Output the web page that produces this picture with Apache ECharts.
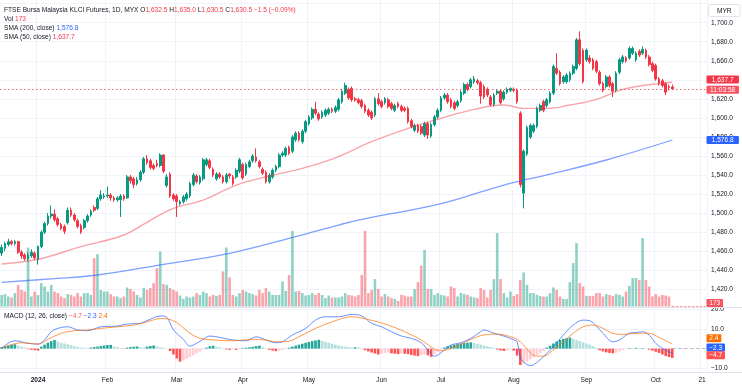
<!DOCTYPE html>
<html><head><meta charset="utf-8">
<script src="https://cdn.jsdelivr.net/npm/echarts@6/dist/echarts.min.js"></script>
<style>html,body{margin:0;padding:0;background:#fff}#c{width:742px;height:390px}</style>
</head><body><div id="c"></div>
<script>
// ---------- data ----------
const startDate = '2023-12-14';
const endDate = '2024-10-22';
const holidays = ['2023-12-25','2024-01-01','2024-01-25','2024-03-28','2024-04-10','2024-04-11','2024-05-01','2024-06-03','2024-06-17','2024-07-08'];
const tickDates = ['2024-01-02','2024-02-01','2024-03-01','2024-04-01','2024-05-02','2024-06-04','2024-07-01','2024-08-01','2024-09-02','2024-10-01','2024-10-21'];
const tickLabels = ['2024','Feb','Mar','Apr','May','Jun','Jul','Aug','Sep','Oct','21'];

// [open, close, low, high]
const candles = [
[1458,1464,1455,1467],[1463,1468,1460,1470],[1467,1470,1465,1473],[1470,1468,1466,1472],[1468,1470,1466,1472],
[1470,1459,1457,1471],[1459,1455,1452,1461],[1456,1452,1450,1458],[1452,1456,1450,1459],[1455,1459,1453,1462],
[1458,1453,1451,1460],[1451,1465,1446,1466],[1465,1480,1463,1482],[1480,1489,1478,1491],[1489,1497,1487,1500],
[1497,1499,1494,1508],[1499,1493,1491,1504],[1494,1488,1486,1496],[1488,1484,1482,1490],[1486,1481,1478,1488],
[1490,1503,1488,1506],[1503,1498,1496,1506],[1498,1493,1491,1500],[1492,1486,1484,1494],[1487,1480,1478,1489],
[1485,1492,1483,1494],[1492,1497,1490,1499],[1498,1502,1496,1504],[1506,1503,1501,1508],[1505,1515,1503,1517],
[1515,1519,1513,1524],[1517,1518,1515,1521],[1518,1519,1516,1528],[1519,1516,1513,1521],[1516,1514,1512,1518],
[1514,1516,1512,1518],[1514,1518,1496,1520],[1518,1515,1513,1520],[1516,1538,1515,1540],[1538,1534,1531,1540],
[1536,1530,1526,1538],[1531,1535,1529,1538],[1535,1543,1533,1545],[1543,1557,1541,1559],[1557,1553,1551,1561],
[1555,1548,1546,1557],[1550,1547,1545,1552],[1552,1550,1548,1556],[1550,1561,1548,1563],[1561,1544,1542,1562],
[1529,1538,1527,1541],[1541,1518,1516,1543],[1519,1515,1513,1521],[1518,1512,1496,1520],[1510,1512,1508,1514],
[1512,1517,1510,1519],[1515,1520,1513,1522],[1518,1531,1516,1533],[1530,1540,1528,1542],[1539,1533,1531,1541],
[1532,1538,1530,1540],[1536,1556,1534,1558],[1551,1556,1549,1558],[1555,1548,1546,1557],[1546,1540,1538,1548],
[1536,1541,1534,1543],[1541,1538,1536,1543],[1538,1533,1531,1540],[1533,1540,1531,1542],[1541,1539,1536,1542],
[1538,1531,1529,1540],[1538,1545,1536,1547],[1544,1556,1542,1558],[1551,1537,1535,1553],[1541,1551,1539,1553],
[1549,1554,1547,1556],[1555,1560,1553,1562],[1559,1555,1553,1568],[1554,1549,1547,1556],[1546,1542,1540,1548],
[1543,1533,1531,1545],[1533,1540,1531,1542],[1538,1545,1536,1547],[1545,1549,1543,1551],[1549,1561,1547,1563],
[1561,1563,1559,1565],[1561,1568,1559,1570],[1569,1563,1561,1571],[1565,1580,1563,1582],[1577,1584,1575,1586],
[1584,1577,1575,1586],[1575,1586,1573,1588],[1586,1596,1584,1598],[1594,1601,1592,1603],[1600,1609,1598,1611],
[1609,1605,1603,1617],[1604,1599,1597,1606],[1601,1606,1599,1608],[1603,1608,1601,1610],[1605,1609,1603,1611],
[1609,1607,1605,1611],[1607,1611,1605,1613],[1609,1619,1607,1621],[1617,1628,1615,1630],[1626,1634,1624,1637],
[1630,1621,1619,1632],[1631,1619,1617,1633],[1620,1619,1617,1622],[1619,1616,1614,1621],[1618,1612,1610,1620],
[1613,1607,1605,1615],[1608,1603,1601,1610],[1606,1600,1598,1608],[1603,1620,1601,1622],[1620,1615,1613,1626],
[1617,1612,1610,1619],[1616,1620,1614,1622],[1619,1612,1610,1621],[1615,1610,1608,1617],[1608,1613,1606,1615],
[1615,1612,1610,1617],[1612,1608,1606,1614],[1610,1608,1606,1612],[1610,1596,1594,1612],[1597,1591,1589,1599],
[1587,1592,1585,1594],[1592,1586,1584,1594],[1591,1584,1582,1593],[1582,1594,1580,1596],[1594,1582,1578,1596],
[1581,1593,1579,1595],[1593,1601,1591,1603],[1601,1608,1599,1610],[1608,1621,1606,1623],[1621,1624,1619,1626],
[1624,1617,1615,1626],[1619,1612,1610,1621],[1616,1610,1608,1618],[1613,1617,1611,1619],[1618,1627,1616,1629],
[1626,1635,1624,1637],[1635,1630,1628,1637],[1633,1640,1631,1642],[1638,1641,1636,1644],[1639,1637,1635,1641],
[1637,1623,1615,1639],[1633,1622,1620,1635],[1630,1624,1622,1632],[1622,1614,1612,1624],[1614,1624,1612,1626],
[1626,1628,1624,1630],[1628,1616,1614,1630],[1620,1627,1618,1629],[1627,1630,1625,1632],[1629,1631,1627,1632],
[1630,1629,1627,1632],[1629,1617,1615,1631],[1605,1530,1527,1607],[1521,1565,1505,1567],[1562,1590,1560,1592],
[1580,1592,1578,1594],[1586,1592,1584,1594],[1591,1610,1589,1612],[1608,1613,1606,1615],[1617,1608,1606,1619],
[1613,1619,1611,1621],[1617,1626,1615,1628],[1626,1654,1624,1656],[1652,1647,1645,1668],[1648,1636,1634,1650],
[1638,1643,1636,1645],[1638,1645,1636,1647],[1640,1647,1638,1649],[1647,1654,1645,1656],[1652,1682,1650,1684],
[1682,1657,1655,1691],[1671,1638,1636,1673],[1661,1671,1659,1673],[1663,1659,1657,1666],[1661,1652,1650,1663],
[1659,1649,1647,1661],[1648,1636,1634,1650],[1636,1629,1627,1638],[1633,1643,1631,1645],[1643,1634,1632,1645],
[1636,1628,1622,1638],[1629,1647,1627,1649],[1648,1661,1646,1663],[1659,1664,1657,1666],[1663,1660,1658,1665],
[1663,1673,1661,1675],[1668,1673,1666,1675],[1661,1668,1659,1670],[1670,1666,1664,1672],[1668,1672,1666,1675],
[1671,1664,1662,1673],[1664,1656,1654,1666],[1657,1650,1648,1659],[1655,1641,1639,1657],[1641,1636,1634,1643],
[1639,1634,1632,1641],[1636,1627,1624,1638],[1633,1632,1629,1635],[1632.5,1630.5,1630.5,1635]
];

const volumes = [
5800,6200,5000,4500,6700,10800,8300,7500,29500,5000,
7500,5800,11700,10000,7500,10800,7500,6700,5000,4200,
6200,5800,5000,6700,5000,6700,6700,5800,24200,26200,
8300,7500,7500,6200,5000,5000,4200,5000,9500,8800,
7500,5800,4500,9200,8300,9200,11700,19200,27500,11200,
10800,9200,8300,7500,5500,3800,5000,4500,5000,6700,
5800,7500,6700,5000,5800,5300,5800,17500,29500,14500,
5800,5000,6700,8300,7500,6700,6200,5500,8300,6700,
9200,7500,5800,5800,5800,12500,7800,15800,37800,7500,
7800,6700,5500,5800,6700,5800,6700,5800,4200,5500,
4500,
4500,4500,5000,6700,5800,5500,5000,5800,15800,
37800,6700,8300,13700,8800,5000,6200,5000,4200,3800,
2800,5800,5500,5000,5000,8700,12200,20500,28300,8700,
8700,5800,6700,5800,5500,5000,10000,9200,5000,6700,
6300,5800,5000,4500,4200,9200,8300,4500,8300,13700,
36700,13700,6700,4500,7500,5300,6200,13300,17000,10800,
6700,6700,5800,5300,5000,5000,6700,9500,8300,5000,
3800,3800,12200,21700,31700,11700,10000,5300,5300,5300,
6700,6700,5000,6200,5800,5300,6200,5800,5000,7500,
10300,14200,14200,13300,34200,13300,10000,5000,6200,5000,
5800,5500,5000,173
];

// [bar index, value]
const sma50Pts = [[0,1446.6],[11,1451.5],[24,1464.8],[37,1477],[45,1492.5],[52,1505],[61,1513.7],[71,1529.5],[81,1539],[91,1547],[101,1558],[112,1575],[123,1589],[133,1599.6],[143,1609],[152,1613.5],[158,1610],[165,1610],[172,1613.5],[180,1619.5],[187,1629],[193,1633.5],[200,1636.3],[203,1637.7]];
const sma200Pts = [[0,1427.3],[15,1431],[29,1435],[49,1446.2],[69,1457.8],[89,1475.3],[102,1487.5],[108,1492.7],[133,1510],[152,1529.5],[167,1541.8],[183,1555.8],[203,1576.8]];
const macdPts = [[0,0.2],[4,4.0],[8,2.7],[11,2.3],[13,4.4],[15,8.6],[17,10.3],[20,11.1],[23,9.5],[26,9.1],[30,11.1],[35,11.5],[38,12.5],[42,12.9],[44,14.2],[48,16.6],[50,15.9],[52,9.5],[55,4.7],[57,1.3],[59,2.7],[61,4.7],[63,6.4],[66,5.7],[70,4.4],[74,4.0],[77,6.0],[80,4.4],[83,3.0],[85,3.5],[88,6.9],[92,10.3],[95,14.5],[98,16.2],[102,16.2],[106,17.4],[109,16.6],[112,12.9],[115,11.1],[118,8.6],[121,6.4],[124,5.2],[127,3.0],[129,-0.7],[131,-3.8],[132,-3.3],[134,-0.7],[136,1.8],[139,3.0],[142,5.2],[145,8.6],[146,9.5],[149,7.8],[152,6.4],[155,4.5],[156,3.5],[157,-4.5],[158,-6.8],[160,-8.6],[161,-8.3],[164,-4.1],[167,1.0],[170,6.9],[173,12.0],[176,14.5],[178,14.2],[180,11.5],[182,7.8],[185,3.5],[187,4.4],[190,7.8],[192,8.2],[194,8.6],[196,6.9],[198,2.7],[200,0.1],[203,-2.3]];
const signalPts = [[0,0.2],[6,3.0],[11,2.3],[14,4.7],[18,7.8],[22,9.1],[26,9.5],[30,10.3],[35,11.1],[40,12.0],[44,13.6],[48,15.3],[51,14.8],[54,12.0],[57,7.8],[60,5.3],[64,4.4],[70,4.0],[76,4.7],[80,4.4],[83,3.5],[86,3.5],[90,6.0],[95,10.3],[100,13.6],[106,16.2],[111,14.8],[117,12.0],[122,8.6],[127,4.4],[131,-0.3],[133,-1.1],[136,0.1],[140,3.0],[144,6.1],[147,7.2],[150,7.4],[154,6.1],[156,4.7],[158,1.8],[160,-2.1],[162,-3.8],[164,-3.8],[167,-0.7],[170,3.5],[173,7.8],[176,11.1],[179,12.0],[182,10.3],[185,7.8],[188,7.2],[192,7.8],[196,7.8],[199,5.7],[203,2.4]];
const histVals = [
0.8,1.2,1.6,2.0,2.2,1.6,1.0,0.5,-0.3,-0.6,
-0.8,-1.0,1.0,2.0,3.0,3.8,4.4,3.6,3.0,2.6,
2.2,1.8,1.3,0.9,0.6,0.4,0.3,0.5,0.8,1.0,
1.3,1.6,1.8,1.9,1.2,0.8,0.4,-0.2,0.5,0.8,
1.0,1.1,0.8,0.6,1.0,1.3,1.6,1.2,0.8,0.4,
0.1,-1.2,-3.0,-5.0,-6.6,-6.0,-5.2,-4.3,-3.4,-2.4,
-1.4,-0.5,0.5,1.2,1.5,1.0,0.6,0.2,-0.4,-0.6,
-0.3,-0.6,-0.3,0.3,0.5,0.7,0.9,1.3,1.5,0.8,
0.2,-0.6,-1.0,-1.3,-1.0,-0.6,-0.2,0.5,1.0,1.5,
2.0,2.5,3.0,3.4,3.8,4.2,4.5,4.0,3.5,3.0,
2.5,2.0,1.6,1.3,1.0,0.8,0.6,0.7,0.5,0.3,
-0.8,-1.4,-2.0,-2.5,-3.0,-2.6,-2.2,-2.0,-2.4,-2.6,
-2.8,-2.5,-2.6,-2.8,-3.2,-3.6,-3.8,-3.3,-3.0,-3.4,
-4.2,-2.8,-1.5,-0.5,0.6,1.2,1.6,2.0,2.3,2.6,
2.8,3.0,3.2,2.8,2.4,2.0,1.6,1.2,0.8,0.4,
-0.5,-0.9,-1.2,-0.8,-0.5,-1.0,-3.5,-8.3,-7.4,-6.5,
-5.5,-4.4,-3.3,-2.2,-1.2,0.6,1.5,2.6,3.6,4.4,
5.0,5.3,5.6,5.0,4.4,3.8,3.2,2.6,2.0,1.3,
0.5,-0.8,-1.4,-1.9,-2.2,-2.4,-2.0,-1.4,-0.8,-0.3,
0.3,0.2,0.4,0.2,0.3,0.1,-0.5,-1.0,-1.6,-2.2,
-3.0,-3.8,-4.3,-4.7
];
const countdownText = '11:03:58';

// ---------- helpers ----------
const FONT = '"Liberation Sans", Arial, sans-serif';
const FS = 6.6;
const TXT = '#131722';
const UP = '#089981', DOWN = '#F23645';
const BLUE = '#2962FF', ORANGE = '#FF6D00';

function fmt(v, dec) {
  if (dec === undefined) dec = 1;
  const s = Math.abs(v).toFixed(dec);
  const parts = s.split('.');
  const a = parts[0].replace(/\B(?=(\d{3})+(?!\d))/g, ',');
  return (v < 0 ? '\u2212' : '') + a + (parts[1] ? '.' + parts[1] : '');
}

const categories = [];
(function () {
  const d = new Date(startDate + 'T00:00:00Z');
  const end = new Date(endDate + 'T00:00:00Z');
  while (d <= end) {
    const wd = d.getUTCDay();
    const s = d.toISOString().slice(0, 10);
    if (wd !== 0 && wd !== 6 && holidays.indexOf(s) < 0) categories.push(s);
    d.setUTCDate(d.getUTCDate() + 1);
  }
})();
const tickMap = {};
tickDates.forEach((d, i) => { tickMap[d] = tickLabels[i]; });

const last = candles[candles.length - 1];
const prev = candles[candles.length - 2];
const lastClose = last[1];
const chg = lastClose - prev[1];
const pct = chg / prev[1] * 100;
const lastVol = volumes[volumes.length - 1];
const sma50Last = sma50Pts[sma50Pts.length - 1][1];
const sma200Last = sma200Pts[sma200Pts.length - 1][1];
const macdLast = macdPts[macdPts.length - 1][1];
const signalLast = signalPts[signalPts.length - 1][1];
const histLast = histVals[histVals.length - 1];

const volData = volumes.map((v, i) => ({
  value: v,
  itemStyle: { color: candles[i][1] >= candles[i][0] ? 'rgba(8,153,129,0.45)' : 'rgba(242,54,69,0.45)' }
}));
const histData = histVals.map((v, i) => {
  const p = i > 0 ? histVals[i - 1] : 0;
  let c;
  if (v >= 0) c = v >= p ? '#26A69A' : '#B2DFDB';
  else c = v <= p ? '#FF5252' : '#FFCDD2';
  return { value: v, itemStyle: { color: c } };
});

const richBase = { fontSize: FS, fontFamily: FONT, lineHeight: 9 };
const rich = {
  t: Object.assign({ color: TXT }, richBase),
  r: Object.assign({ color: DOWN }, richBase),
  b: Object.assign({ color: BLUE }, richBase),
  o: Object.assign({ color: ORANGE }, richBase),
  m: Object.assign({ color: '#FF5252' }, richBase)
};
function legend(text, top) {
  return { text: text, left: 4, top: top, padding: 0,
    textStyle: { fontSize: FS, fontFamily: FONT, fontWeight: 'normal', color: TXT, lineHeight: 9, rich: rich } };
}

const tickInterval = (idx, val) => tickMap[val] !== undefined;

const chart = echarts.init(document.getElementById('c'), null, { renderer: 'canvas' });
const option = {
  animation: false,
  backgroundColor: '#ffffff',
  textStyle: { fontFamily: FONT },
  title: [
    legend('{t|FTSE Bursa Malaysia KLCI Futures, 1D, MYX} {t|O}{r|' + fmt(last[0]) + '} {t|H}{r|' + fmt(last[3]) + '} {t|L}{r|' + fmt(last[2]) + '} {t|C}{r|' + fmt(lastClose) + '} {r|' + fmt(chg) + ' (' + fmt(pct, 2) + '%)}', 5.5),
    legend('{t|Vol} {r|' + lastVol + '}', 14.5),
    legend('{t|SMA (200, close)} {b|' + fmt(sma200Last) + '}', 23.2),
    legend('{t|SMA (50, close)} {r|' + fmt(sma50Last) + '}', 32.2),
    legend('{t|MACD (12, 26, close)} {m|' + fmt(histLast) + '} {b|' + fmt(macdLast) + '} {o|' + fmt(signalLast) + '}', 311.5)
  ],
  grid: [
    { left: 0, top: 0, width: 707, height: 372 },
    { left: 0, top: 3.66, width: 707, height: 285.64 },
    { left: 0, top: 218.5, width: 707, height: 88 },
    { left: 0, top: 309.3, width: 707, height: 59 }
  ],
  xAxis: [0, 1, 2, 3].map(g => {
    if (g === 0) {
      return {
        type: 'category', gridIndex: 0, data: categories, boundaryGap: true,
        axisLine: { show: false }, axisTick: { show: false },
        axisLabel: {
          interval: tickInterval, margin: 5, color: TXT, fontSize: FS, fontFamily: FONT,
          formatter: v => (tickMap[v] === '2024' ? '{y|2024}' : (tickMap[v] || '')),
          rich: { y: { fontWeight: 'bold', fontSize: FS, fontFamily: FONT, color: TXT } }
        },
        splitLine: { show: true, interval: tickInterval, lineStyle: { color: '#f0f3fa', width: 1 } }
      };
    }
    return { type: 'category', gridIndex: g, data: categories, boundaryGap: true, show: false };
  }),
  yAxis: [
    { type: 'value', gridIndex: 0, show: false, min: 0, max: 1 },
    {
      type: 'value', gridIndex: 1, position: 'right', min: 1420, max: 1720, interval: 20,
      axisLine: { show: false }, axisTick: { show: false },
      axisLabel: { color: TXT, fontSize: FS, fontFamily: FONT, margin: 4, showMaxLabel: false, showMinLabel: true, hideOverlap: false, formatter: v => fmt(v, 1) },
      splitLine: { lineStyle: { color: '#f0f3fa', width: 1 } }
    },
    { type: 'value', gridIndex: 2, min: 0, max: 44000, show: false },
    {
      type: 'value', gridIndex: 3, position: 'right', min: -10, max: 20, interval: 10,
      axisLine: { show: false }, axisTick: { show: false },
      axisLabel: { color: TXT, fontSize: FS, fontFamily: FONT, margin: 4, showMaxLabel: true, showMinLabel: true, hideOverlap: false, formatter: v => (v === 0 ? '' : fmt(v, 1)) },
      splitLine: { lineStyle: { color: '#f0f3fa', width: 1 } }
    }
  ],
  series: [
    {
      name: 'Vol', type: 'bar', xAxisIndex: 2, yAxisIndex: 2, data: volData, barWidth: 2.6, z: 1,
      markLine: { silent: true, symbol: ['none', 'none'], label: { show: false },
        lineStyle: { color: 'rgba(242,54,69,0.6)', type: [2, 2], width: 1 },
        data: [[{ coord: [categories[candles.length - 1], lastVol] }, { coord: [categories[categories.length - 1], lastVol] }]] }
    },
    {
      name: 'Price', type: 'candlestick', xAxisIndex: 1, yAxisIndex: 1, data: candles, barWidth: 2.2, z: 3,
      itemStyle: { color: UP, color0: DOWN, borderColor: UP, borderColor0: DOWN, borderWidth: 1 },
      markLine: { silent: true, symbol: ['none', 'none'], label: { show: false },
        lineStyle: { color: 'rgba(242,54,69,0.75)', type: [1.5, 2.5], width: 1 },
        data: [{ yAxis: lastClose }] }
    },
    {
      name: 'SMA200', type: 'line', xAxisIndex: 1, yAxisIndex: 1, data: sma200Pts, smooth: 0.4,
      showSymbol: false, lineStyle: { color: 'rgba(41,98,255,0.6)', width: 1.3 }, z: 4
    },
    {
      name: 'SMA50', type: 'line', xAxisIndex: 1, yAxisIndex: 1, data: sma50Pts, smooth: 0.4,
      showSymbol: false, lineStyle: { color: 'rgba(242,54,69,0.45)', width: 1.4 }, z: 4
    },
    {
      name: 'Hist', type: 'bar', xAxisIndex: 3, yAxisIndex: 3, data: histData, barWidth: 2.6, z: 2,
      markLine: { silent: true, symbol: ['none', 'none'], label: { show: false },
        lineStyle: { color: '#b2b5be', type: [3, 3], width: 1 },
        data: [[{ coord: [categories[candles.length - 1], 0] }, { coord: [categories[categories.length - 1], 0] }]] }
    },
    {
      name: 'MACD', type: 'line', xAxisIndex: 3, yAxisIndex: 3, data: macdPts, smooth: 0.35,
      showSymbol: false, lineStyle: { color: 'rgba(41,98,255,0.7)', width: 1 }, z: 4
    },
    {
      name: 'Signal', type: 'line', xAxisIndex: 3, yAxisIndex: 3, data: signalPts, smooth: 0.35,
      showSymbol: false, lineStyle: { color: 'rgba(255,109,0,0.7)', width: 1 }, z: 4
    }
  ]
};
chart.setOption(option);

// ---------- price-scale badges ----------
function textEl(x, y, text, fill) {
  return {
    type: 'text', z: 101, x: x, y: y,
    style: { text: text, fill: fill, font: FS + 'px ' + FONT,
      align: 'center', verticalAlign: 'middle', textAlign: 'center', textVerticalAlign: 'middle' }
  };
}
function badge(cy, text, bg, w) {
  return [
    { type: 'rect', z: 100, shape: { x: 706.5, y: cy - 4, width: w, height: 8, r: 1 }, style: { fill: bg } },
    textEl(706.5 + w / 2, cy + 0.3, text, '#ffffff')
  ];
}
const priceY = chart.convertToPixel({ yAxisIndex: 1 }, lastClose);
const sma200Y = chart.convertToPixel({ yAxisIndex: 1 }, sma200Last);
const zeroY = chart.convertToPixel({ yAxisIndex: 3 }, 0);
const volY = chart.convertToPixel({ yAxisIndex: 2 }, 0) - 3.5;

const graphics = [
  { type: 'line', z: 50, shape: { x1: 0, y1: 307.5, x2: 742, y2: 307.5 }, style: { stroke: '#e0e3eb', lineWidth: 1 } },
  { type: 'line', z: 50, shape: { x1: 0, y1: 372.5, x2: 742, y2: 372.5 }, style: { stroke: '#e0e3eb', lineWidth: 1 } },
  { type: 'rect', z: 100, shape: { x: 708.5, y: 4.5, width: 31.5, height: 12, r: 2 },
    style: { fill: '#ffffff', stroke: '#e0e3eb', lineWidth: 1 } },
  textEl(724.25, 10.8, 'MYR', TXT)
].concat(
  badge(priceY + 0.8, countdownText, '#F7525F', 32.4),
  badge(priceY - 9.5, fmt(sma50Last), DOWN, 32.4),
  badge(sma200Y, fmt(sma200Last), BLUE, 32.4),
  badge(volY, String(lastVol), '#F7525F', 16.5),
  badge(zeroY - 10.3, fmt(signalLast), ORANGE, 14.8),
  badge(zeroY - 1.2, fmt(macdLast), BLUE, 18.5),
  badge(zeroY + 6.6, fmt(histLast), '#FF5252', 18.5)
);
chart.setOption({ graphic: graphics });
</script>
</body></html>
